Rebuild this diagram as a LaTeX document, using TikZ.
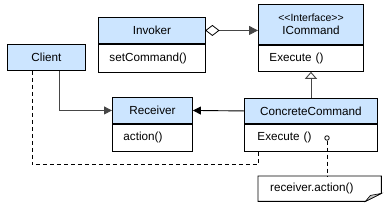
\documentclass[tikz,border=0pt]{standalone}
\usepackage{fontspec}
\setmainfont{Liberation Sans}
\usetikzlibrary{arrows.meta,calc}
\definecolor{hdrblue}{RGB}{204,229,255}
\definecolor{lnk}{RGB}{70,70,70}
\begin{document}
\begin{tikzpicture}[x=1pt,y=-1pt,
  font=\fontsize{11.7}{13}\selectfont,
  hdr/.style={draw=black,fill=hdrblue,line width=0.9pt,inner sep=0pt,anchor=north west,align=center},
  bodybox/.style={draw=black,fill=white,line width=0.9pt,inner ysep=0pt,inner xsep=11pt,anchor=north west,align=left},
  nav/.style={-{Triangle[length=8pt,width=8pt]},line width=0.9pt},
  dsh/.style={line width=0.9pt,dash pattern=on 4pt off 3pt}]
\useasboundingbox (0,0) rectangle (392,207);
% Client
\node[hdr,minimum width=78pt,minimum height=26pt] (cl) at (7,44) {Client};
% Invoker
\node[hdr,minimum width=107pt,minimum height=26pt] (invh) at (98,17) {Invoker};
\node[bodybox,text width=85pt,minimum height=28pt] (invb) at (invh.south west) {setCommand()};
% ICommand
\node[hdr,minimum width=105pt,minimum height=40pt] (ich) at (258,4) {{\fontsize{10.5}{12}\selectfont \textless{}\textless{}Interface\textgreater{}\textgreater{}}\\ICommand};
\node[bodybox,text width=83pt,minimum height=26pt] (icb) at (ich.south west) {Execute ()};
% Receiver
\node[hdr,minimum width=80pt,minimum height=26pt] (rch) at (112,97) {Receiver};
\node[bodybox,text width=58pt,minimum height=27pt] (rcb) at (rch.south west) {action()};
% ConcreteCommand
\node[hdr,minimum width=133pt,minimum height=25pt] (cch) at (244,98) {ConcreteCommand};
\node[bodybox,inner xsep=13pt,text width=107pt,minimum height=27pt] (ccb) at (cch.south west) {Execute ()};
% small circle
\node[circle,draw=black,fill=white,line width=0.8pt,minimum size=4.5pt,inner sep=0pt] (circ) at (327,138) {};
% note
\node[minimum width=123pt,minimum height=25pt,inner sep=0pt,anchor=north west] (nt) at (258,176) {};
\draw[line width=0.9pt,fill=white] (nt.north west) -- (nt.north east) -- ($(nt.south east)+(0,-8)$) -- ($(nt.south east)+(-16,0)$) -- (nt.south west) -- cycle;
\draw[line width=0.6pt,fill=gray!45] ($(nt.south east)+(-16,0)$) -- ($(nt.south east)+(-11,-6)$) -- ($(nt.south east)+(0,-8)$) -- cycle;
\node[anchor=west,inner sep=0pt] (ntt) at ($(nt.west)+(12,0)$) {receiver.action()};
% connectors
\draw[lnk,line width=0.9pt,-{Triangle[length=9pt,width=9pt]}] (invh.east) -- (ich.west |- invh.east);
\draw[line width=0.8pt,fill=white] (invh.east) -- ++(6.5,-5) -- ++(6.5,5) -- ++(-6.5,5) -- cycle;
\draw[lnk,line width=0.9pt,-{Triangle[open,length=7pt,width=12pt,fill=white]}] (cch.north) -- (icb.south);
\draw[nav] (cch.west) -- (rch.east);
\draw[lnk,nav] ($(cl.south west)+(52,0)$) |- (rch.west);
\draw[dsh] ($(cl.south west)+(25,0)$) -- ++(0,94) -| ($(ccb.south west)+(14,0)$);
\draw[dsh] (circ.south) -- (circ.south |- nt.north);
\end{tikzpicture}
\end{document}
